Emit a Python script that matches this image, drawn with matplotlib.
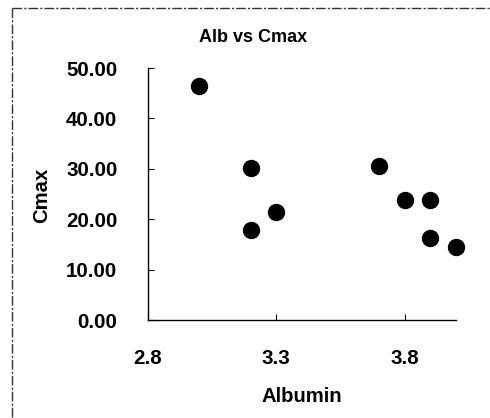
import matplotlib
matplotlib.use('Agg')
import matplotlib.pyplot as plt
from matplotlib.lines import Line2D

# data
albumin = [3.0, 3.2, 3.3, 3.2, 3.7, 3.8, 3.9, 3.9, 4.0]
cmax = [46.4, 30.1, 21.4, 17.9, 30.6, 23.8, 23.8, 16.3, 14.4]
xticks = [2.8, 3.3, 3.8]
xtick_labels = ['2.8', '3.3', '3.8']
yticks = [0, 10, 20, 30, 40, 50]
ytick_labels = ['0.00', '10.00', '20.00', '30.00', '40.00', '50.00']

plt.rcParams['font.family'] = ['Liberation Sans', 'DejaVu Sans']

W, H = 490, 418
fig = plt.figure(figsize=(W / 100, H / 100), dpi=100)

# axes box in pixel coords
x0, x1, y0, y1 = 148, 456, 68, 320
ax = fig.add_axes([x0 / W, 1 - y1 / H, (x1 - x0) / W, (y1 - y0) / H])

ax.plot(albumin, cmax, 'o', color='black', markersize=11.5, linestyle='none',
        clip_on=False)

ax.set_xlim(2.8, 4.0)
ax.set_ylim(0, 50)
ax.set_xticks(xticks)
ax.set_xticklabels(xtick_labels, fontsize=14.8, fontweight='bold')
ax.set_yticks(yticks)
ax.set_yticklabels(ytick_labels, fontsize=14.8, fontweight='bold')
ax.tick_params(direction='in', length=4, width=0.8, color='black', pad=21)
ax.tick_params(axis='y', pad=22)

for s in ['top', 'right']:
    ax.spines[s].set_visible(False)
for s in ['left', 'bottom']:
    ax.spines[s].set_linewidth(1.0)
    ax.spines[s].set_color('black')

fig.text(253 / W, 1 - 37 / H, 'Alb vs Cmax', ha='center', va='center',
         fontsize=13, fontweight='bold')
fig.text(302 / W, 1 - 397 / H, 'Albumin', ha='center', va='center',
         fontsize=14.6, fontweight='bold')
fig.text(42 / W, 1 - 195 / H, 'Cmax', ha='center', va='center',
         rotation=90, fontsize=14.6, fontweight='bold')

# chart area border (only top and left visible)
ls = (0, (7, 1.5, 1.5, 1.5))
fig.add_artist(Line2D([12 / W, 1.0], [1 - 8 / H, 1 - 8 / H], color='#333333',
                      lw=1.0, linestyle=ls, transform=fig.transFigure))
fig.add_artist(Line2D([12 / W, 12 / W], [1 - 8 / H, 0.0], color='#333333',
                      lw=1.0, linestyle=ls, transform=fig.transFigure))

fig.savefig('out.png', dpi=100)
